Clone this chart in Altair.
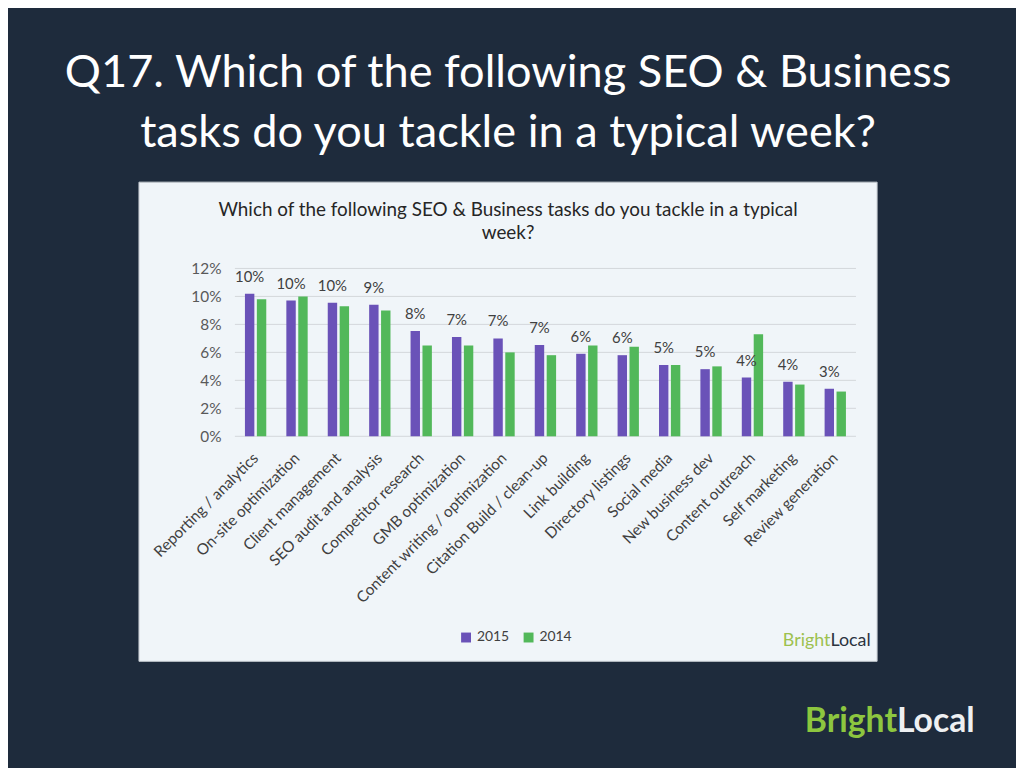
import altair as alt
import pandas as pd

tasks = [
    "Reporting / analytics", "On-site optimization", "Client management",
    "SEO audit and analysis", "Competitor research", "GMB optimization",
    "Content writing / optimization", "Citation Build / clean-up", "Link building",
    "Directory listings", "Social media", "New business dev", "Content outreach",
    "Self marketing", "Review generation",
]
years = ["2015", "2014"]
pct_2015 = [0.102, 0.097, 0.0954, 0.094, 0.0752, 0.071, 0.070, 0.0652, 0.059,
            0.058, 0.051, 0.048, 0.042, 0.039, 0.034]
pct_2014 = [0.098, 0.100, 0.093, 0.090, 0.065, 0.065, 0.060, 0.058, 0.065,
            0.064, 0.051, 0.050, 0.073, 0.037, 0.032]
y_ticks = [0, 0.02, 0.04, 0.06, 0.08, 0.10, 0.12]
slide_title = ["Q17. Which of the following SEO & Business",
               "tasks do you tackle in a typical week?"]
chart_title = ["Which of the following SEO & Business tasks do you tackle in a typical",
               "week?"]

PURPLE = "#6a52b8"
GREEN = "#52b85a"
BG = "#1e2b3c"

rows = []
for t, a, b in zip(tasks, pct_2015, pct_2014):
    rows.append({"task": t, "year": "2015", "pct": a})
    rows.append({"task": t, "year": "2014", "pct": b})
df = pd.DataFrame(rows)
grid_df = pd.DataFrame({"tick": y_ticks})
one = pd.DataFrame({"k": [0]})

W, H = 626, 169.2
PL, PT = 228.7, 259.5
TOTAL_W, TOTAL_H = 1016, 760

y_scale = alt.Scale(domain=[0, 0.12])
x_scale = alt.Scale(paddingInner=0.485, paddingOuter=0.2425)
off_scale = alt.Scale(domain=years, paddingInner=0.21, paddingOuter=0)

x_axis = alt.Axis(title=None, labelAngle=-45, labelAlign="right",
                  labelBaseline="middle", labelPadding=19, ticks=False,
                  domain=False, labelFont="Lato", labelFontSize=15.5,
                  labelColor="#404040", zindex=1, labelLimit=400,
                  labelOverlap=False, grid=False)
y_axis = alt.Axis(title=None, values=y_ticks, format=".0%", grid=False, ticks=False,
                  domain=False, labelPadding=14, labelFont="Lato",
                  labelFontSize=15.5, labelColor="#595959", zindex=1,
                  labelOverlap=False)

panel = alt.Chart(one).mark_rect(fill="#f0f5f9", stroke="#c3c9cf", strokeWidth=1).encode(
    x=alt.value(-96.7), x2=alt.value(647.3), y=alt.value(-87), y2=alt.value(396)
)

grid = alt.Chart(grid_df).mark_rule(color="#d3d7db", strokeWidth=1).encode(
    y=alt.Y("tick:Q", scale=y_scale, axis=y_axis),
    x=alt.value(0), x2=alt.value(W),
)

bars = alt.Chart(df).mark_bar().encode(
    x=alt.X("task:N", sort=tasks, scale=x_scale, axis=x_axis),
    xOffset=alt.XOffset("year:N", sort=years, scale=off_scale),
    y=alt.Y("pct:Q", scale=y_scale, axis=y_axis),
    color=alt.Color("year:N", scale=alt.Scale(domain=years, range=[PURPLE, GREEN]),
                    legend=alt.Legend(title=None, orient="none", legendX=226, legendY=365,
                                      direction="horizontal", symbolType="square",
                                      symbolSize=100, symbolStrokeWidth=0,
                                      labelFont="Lato", labelFontSize=14,
                                      labelColor="#404040", columnPadding=12,
                                      labelOffset=4, padding=0)),
)

labels = alt.Chart(df).transform_filter(alt.datum.year == "2015").mark_text(
    dy=-17, baseline="middle", align="center", font="Lato", fontSize=15, color="#404040"
).encode(
    x=alt.X("task:N", sort=tasks, scale=x_scale, axis=x_axis),
    xOffset=alt.XOffset("year:N", sort=years, scale=off_scale),
    y=alt.Y("pct:Q", scale=y_scale, axis=y_axis),
    text=alt.Text("pct:Q", format=".0%"),
)

title_big = alt.Chart(one).mark_text(
    text=slide_title, font="Lato", fontSize=45.5, color="#ffffff", align="center",
    baseline="alphabetic", lineHeight=60
).encode(x=alt.value(512 - 236.7), y=alt.value(85 - 267.5))

title_small = alt.Chart(one).mark_text(
    text=chart_title, font="Lato", fontSize=19, color="#262626", align="center",
    baseline="alphabetic", lineHeight=23
).encode(x=alt.value(512 - 236.7), y=alt.value(215 - 267.5))

logo1a = alt.Chart(one).mark_text(
    text="Bright", font="Lato", fontSize=18, color="#9dc14f",
    align="right", baseline="alphabetic"
).encode(x=alt.value(837 - 236.7), y=alt.value(648 - 267.5))
logo1b = alt.Chart(one).mark_text(
    text="Local", font="Lato", fontSize=18, color="#2b3340",
    align="left", baseline="alphabetic"
).encode(x=alt.value(837 - 236.7), y=alt.value(648 - 267.5))

logo2a = alt.Chart(one).mark_text(
    text="Bright", font="Lato", fontSize=34, fontWeight="bold",
    color="#8dc63f", align="right", baseline="alphabetic"
).encode(x=alt.value(904 - 236.7), y=alt.value(735 - 267.5))
logo2b = alt.Chart(one).mark_text(
    text="Local", font="Lato", fontSize=34, fontWeight="bold",
    color="#eef0f2", align="left", baseline="alphabetic"
).encode(x=alt.value(904 - 236.7), y=alt.value(735 - 267.5))

chart = alt.layer(
    panel, grid, bars, labels, title_big, title_small, logo1a, logo1b, logo2a, logo2b
).properties(
    width=W, height=H,
    padding={"left": PL, "top": PT, "right": TOTAL_W - PL - W, "bottom": TOTAL_H - PT - H},
    autosize=alt.AutoSizeParams(type="none"),
).configure(
    background=BG,
).configure_view(stroke=None)

chart.save("out.html", embed_options={"renderer": "svg", "actions": False})
